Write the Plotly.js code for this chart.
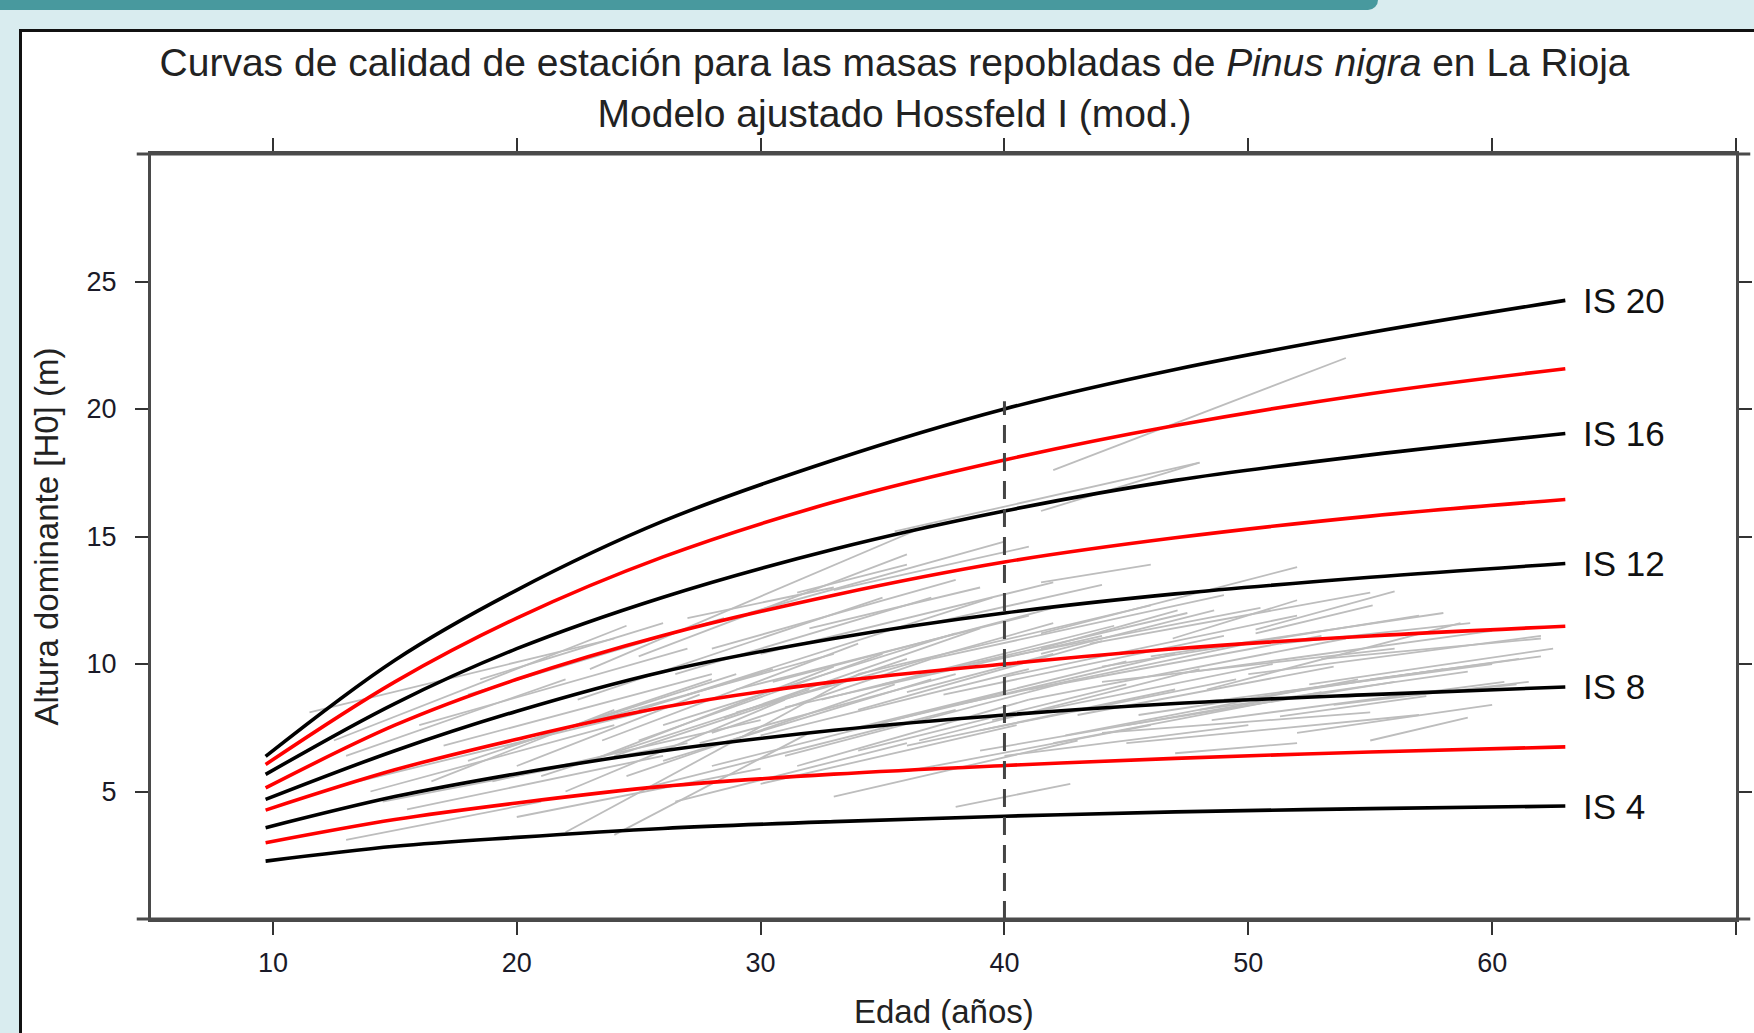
<!DOCTYPE html>
<html>
<head>
<meta charset="utf-8">
<script src="https://cdn.plot.ly/plotly-3.0.1.min.js"></script>
<style>
  html, body { margin: 0; padding: 0; width: 1754px; height: 1033px; overflow: hidden; background: #d9ecef; }
  #bar { position: absolute; left: 0; top: 0; width: 1378px; height: 10px; background: #48999e; border-bottom-right-radius: 12px; }
  #panel { position: absolute; left: 19px; top: 29px; width: 1760px; height: 1040px; background: #ffffff; border-left: 3px solid #111; border-top: 3px solid #111; }
  #chart { position: absolute; left: 0; top: 0; width: 1754px; height: 1033px; }
</style>
</head>
<body>
<div id="bar"></div>
<div id="panel"></div>
<div id="chart"></div>
<script>
// ---- Site index curves (height at reference age 40 = IS) ----
const ages = [9.7, 15, 20, 26, 33, 40, 47, 55, 63];
const IS20 = [6.38, 10.15, 12.9, 15.6, 18.0, 20.0, 21.55, 23.0, 24.26];
const IS18 = [6.06, 9.3, 11.8, 14.2, 16.35, 18.0, 19.35, 20.6, 21.58];
const IS16 = [5.67, 8.45, 10.6, 12.62, 14.5, 16.0, 17.2, 18.2, 19.04];
const IS14 = [5.14, 7.6, 9.4, 11.12, 12.7, 14.0, 14.95, 15.8, 16.45];
const IS12 = [4.69, 6.6, 8.15, 9.7, 11.0, 12.0, 12.75, 13.4, 13.94];
const IS10 = [4.27, 5.85, 7.05, 8.3, 9.3, 10.0, 10.6, 11.1, 11.48];
const IS8  = [3.58, 4.8, 5.7, 6.6, 7.4, 8.0, 8.45, 8.8, 9.1];
const IS6  = [2.99, 3.9, 4.55, 5.2, 5.68, 6.02, 6.3, 6.55, 6.75];
const IS4  = [2.27, 2.85, 3.2, 3.55, 3.82, 4.03, 4.2, 4.33, 4.43];

const curveNames = ["IS 20", "IS 18", "IS 16", "IS 14", "IS 12", "IS 10", "IS 8", "IS 6", "IS 4"];
const curveValues = [IS20, IS18, IS16, IS14, IS12, IS10, IS8, IS6, IS4];
const curveColors = ["#000000", "#ff0000", "#000000", "#ff0000", "#000000", "#ff0000", "#000000", "#ff0000", "#000000"];
const labelledCurves = ["IS 20", "IS 16", "IS 12", "IS 8", "IS 4"];

// ---- Observed stand trajectories (grey) : start age/height, end age/height ----
const obsAge1 = [11.5, 12.5, 13.0, 13.5, 14.0, 13.0, 14.5, 15.5, 16.0, 17.0, 18.0, 19.0, 20.0, 18.5, 21.0, 22.0, 24.0, 22.5, 23.0, 25.0,
                 24.0, 25.5, 26.0, 27.0, 26.5, 28.0, 28.0, 29.0, 30.0, 30.0, 31.0, 31.5, 33.0, 32.0, 33.0, 34.0, 34.0, 35.5, 35.0, 36.0,
                 37.0, 38.0, 37.0, 39.0, 38.0, 40.0, 41.5, 41.5, 41.5, 41.5, 46.9, 50.3, 50.3, 42.0, 41.5, 48.3, 51.3, 51.3, 51.3, 44.0,
                 43.0, 44.0, 45.0, 47.0, 40.0, 36.0, 25.0, 20.0, 27.0, 29.5, 55.0, 58.0, 21.0, 23.5, 26.0, 28.5, 30.5, 32.5, 19.5, 24.5,
                 22.0, 25.0, 27.5, 29.0, 31.0, 33.5, 35.0, 36.5, 38.0, 39.5, 41.0, 42.5, 44.0, 45.5, 47.0, 48.5, 50.0, 52.0, 53.5, 55.0,
                 23.0, 26.5, 30.0, 34.0, 37.5, 41.0, 43.5, 46.0, 49.0, 52.5, 16.5, 18.0, 28.0, 31.5, 36.0, 39.0, 42.0, 45.0, 48.0, 53.0];
const obsH1   = [8.1, 7.0, 6.4, 5.4, 5.0, 3.1, 4.6, 4.3, 7.6, 6.8, 8.8, 5.4, 4.0, 9.4, 7.2, 3.4, 3.3, 8.6, 9.8, 10.3,
                 6.4, 5.2, 7.6, 8.8, 4.6, 6.0, 10.6, 9.0, 5.3, 7.2, 8.3, 12.8, 12.9, 11.4, 4.8, 6.6, 9.6, 15.2, 7.7, 5.8,
                 10.2, 8.4, 11.6, 6.6, 4.4, 9.5, 13.2, 11.2, 10.6, 10.4, 11.0, 11.35, 11.2, 17.6, 16.0, 9.0, 10.8, 8.9, 7.95, 7.3,
                 8.0, 9.3, 6.9, 6.5, 6.4, 8.9, 8.2, 6.0, 11.8, 12.0, 9.4, 8.9, 5.6, 7.0, 6.2, 7.9, 9.3, 8.6, 6.7, 5.6,
                 5.0, 7.0, 6.9, 8.1, 6.4, 7.4, 9.2, 7.0, 9.9, 7.8, 8.6, 7.2, 9.9, 8.0, 9.6, 7.8, 9.6, 7.3, 8.4, 7.0,
                 6.2, 9.6, 10.4, 8.2, 8.8, 9.0, 10.8, 10.3, 8.6, 9.2, 5.4, 6.2, 7.3, 6.0, 6.8, 7.4, 6.9, 7.6, 8.2, 10.2];
const obsAge2 = [24.0, 24.5, 22.0, 26.0, 24.0, 21.0, 27.0, 26.0, 27.0, 28.0, 28.5, 30.0, 30.0, 26.0, 33.0, 34.0, 32.0, 35.0, 37.0, 36.0,
                 36.0, 38.0, 38.0, 39.5, 36.0, 40.0, 38.0, 41.0, 40.5, 41.0, 44.0, 36.0, 41.0, 39.0, 43.0, 45.0, 46.0, 48.0, 47.0, 46.0,
                 49.0, 50.0, 44.0, 51.0, 42.7, 52.0, 46.0, 52.0, 47.1, 48.6, 52.0, 56.0, 55.1, 54.0, 48.0, 58.7, 59.1, 61.1, 57.3, 55.0,
                 53.5, 56.0, 57.0, 52.0, 50.0, 42.0, 30.5, 27.5, 33.0, 40.0, 62.0, 61.0, 32.0, 34.0, 37.0, 39.0, 42.0, 44.5, 29.0, 35.5,
                 31.0, 35.0, 38.0, 42.0, 43.0, 45.0, 47.5, 48.0, 50.5, 51.0, 54.0, 54.5, 57.0, 58.0, 60.0, 60.5, 62.0, 60.0, 61.5, 59.0,
                 33.0, 37.0, 42.0, 44.0, 49.0, 53.0, 55.0, 58.0, 60.0, 62.5, 24.0, 28.0, 37.0, 41.0, 47.0, 49.5, 53.0, 56.0, 59.0, 62.0];
const obsH2   = [11.0, 11.5, 9.4, 8.3, 7.6, 4.6, 6.9, 6.4, 10.6, 9.6, 11.8, 7.8, 5.9, 11.6, 10.4, 9.6, 7.3, 12.6, 15.5, 14.3,
                 10.2, 8.2, 11.2, 12.6, 6.9, 8.9, 13.3, 11.9, 7.6, 9.8, 11.1, 13.9, 14.6, 13.0, 7.0, 9.2, 12.3, 17.9, 10.4, 7.6,
                 12.7, 10.8, 13.1, 8.6, 5.3, 11.9, 13.9, 13.8, 12.1, 12.1, 12.5, 12.85, 12.3, 22.0, 17.9, 11.6, 11.6, 10.2, 8.74, 8.1,
                 9.9, 10.6, 8.0, 6.9, 7.6, 10.4, 9.8, 8.8, 13.0, 14.8, 10.3, 9.2, 9.0, 10.8, 9.4, 11.4, 12.2, 11.5, 9.6, 9.2,
                 8.6, 10.4, 9.6, 11.6, 9.4, 10.1, 12.0, 9.8, 12.2, 10.0, 11.0, 9.4, 11.9, 9.8, 11.3, 9.3, 11.1, 8.4, 9.3, 7.9,
                 9.9, 12.6, 13.2, 10.9, 11.1, 11.1, 12.8, 12.0, 10.0, 10.6, 8.2, 9.4, 10.2, 8.6, 9.0, 9.4, 8.9, 9.3, 9.7, 11.0];

// ---- Axis ticks and titles ----
const xTickVals = [10, 20, 30, 40, 50, 60, 70];
const xTickText = ["10", "20", "30", "40", "50", "60", ""];
const yTickVals = [5, 10, 15, 20, 25];
const yTickText = ["5", "10", "15", "20", "25"];
const xTitleText = "Edad (años)";
const yTitleText = "Altura dominante [H0] (m)";
const refAge = 40;
const refTop = 20.3;

// build grey trajectories as one trace separated by gaps
const gx = [], gy = [];
for (let i = 0; i < obsAge1.length; i++) {
  gx.push(obsAge1[i], obsAge2[i], null);
  gy.push(obsH1[i], obsH2[i], null);
}

const traces = [{
  x: gx, y: gy, type: "scatter", mode: "lines",
  line: { color: "#bdbdbd", width: 1.8 }, hoverinfo: "skip", showlegend: false
}];

curveValues.forEach((vals, i) => {
  traces.push({
    x: ages, y: vals, type: "scatter", mode: "lines", name: curveNames[i],
    line: { color: curveColors[i], width: 3.6, shape: "spline", smoothing: 1 },
    hoverinfo: "skip", showlegend: false
  });
});

const annotations = [];
curveValues.forEach((vals, i) => {
  if (labelledCurves.indexOf(curveNames[i]) >= 0) {
    annotations.push({
      x: ages[ages.length - 1], y: vals[vals.length - 1], xref: "x", yref: "y",
      text: curveNames[i], showarrow: false, xanchor: "left", yanchor: "middle", xshift: 16,
      font: { family: "Liberation Sans, Arial, sans-serif", size: 35, color: "#111111" }
    });
  }
});
// x-axis title below the plot
annotations.push({
  x: 0.5, y: 0, xref: "paper", yref: "paper", xanchor: "center", yanchor: "middle",
  yshift: -92, showarrow: false, text: xTitleText,
  font: { family: "Liberation Sans, Arial, sans-serif", size: 33, color: "#222222" }
});

const tickFont = { family: "Liberation Sans, Arial, sans-serif", size: 27, color: "#1a1a28" };
const frameColor = "#4a4a4a";

const layout = {
  width: 1754, height: 1033,
  paper_bgcolor: "rgba(0,0,0,0)", plot_bgcolor: "#ffffff",
  margin: { l: 151, r: 18, t: 154, b: 114, pad: 0 },
  showlegend: false,
  hovermode: false,
  title: {
    text: "Curvas de calidad de estación para las masas repobladas de <i>Pinus nigra</i> en La Rioja<br>Modelo ajustado Hossfeld I (mod.)",
    x: 0.51, xanchor: "center", xref: "container",
    y: 0.926, yanchor: "top", yref: "container",
    font: { family: "Liberation Sans, Arial, sans-serif", size: 39, color: "#222222" }
  },
  xaxis: {
    range: [5, 70], tickmode: "array", tickvals: xTickVals, ticktext: xTickText,
    showgrid: false, zeroline: false,
    showline: true, linecolor: frameColor, linewidth: 3, mirror: "ticks",
    ticks: "outside", ticklen: 13, tickwidth: 2, tickcolor: "#333333",
    ticklabelstandoff: 5,
    tickfont: tickFont,
    title: { text: "" }
  },
  yaxis: {
    range: [0, 30], tickmode: "array", tickvals: yTickVals, ticktext: yTickText,
    showgrid: false, zeroline: false,
    showline: true, linecolor: frameColor, linewidth: 3, mirror: "ticks",
    ticks: "outside", ticklen: 13, tickwidth: 2, tickcolor: "#333333",
    ticklabelstandoff: 13,
    tickfont: tickFont,
    title: { text: yTitleText, standoff: 19, font: { family: "Liberation Sans, Arial, sans-serif", size: 33, color: "#222222" } }
  },
  shapes: [
    { type: "line", xref: "x", yref: "y", x0: refAge, x1: refAge, y0: 0, y1: refTop,
      line: { color: "#444444", width: 3, dash: "18px,10px" }, layer: "above" },
    { type: "line", xref: "paper", yref: "paper", x0: -0.009, x1: 1.009, y0: 0, y1: 0,
      line: { color: frameColor, width: 3 }, layer: "above" },
    { type: "line", xref: "paper", yref: "paper", x0: -0.009, x1: 1.009, y0: 1, y1: 1,
      line: { color: frameColor, width: 3 }, layer: "above" }
  ],
  annotations: annotations
};

Plotly.newPlot("chart", traces, layout, { displayModeBar: false, staticPlot: true });
</script>
</body>
</html>
